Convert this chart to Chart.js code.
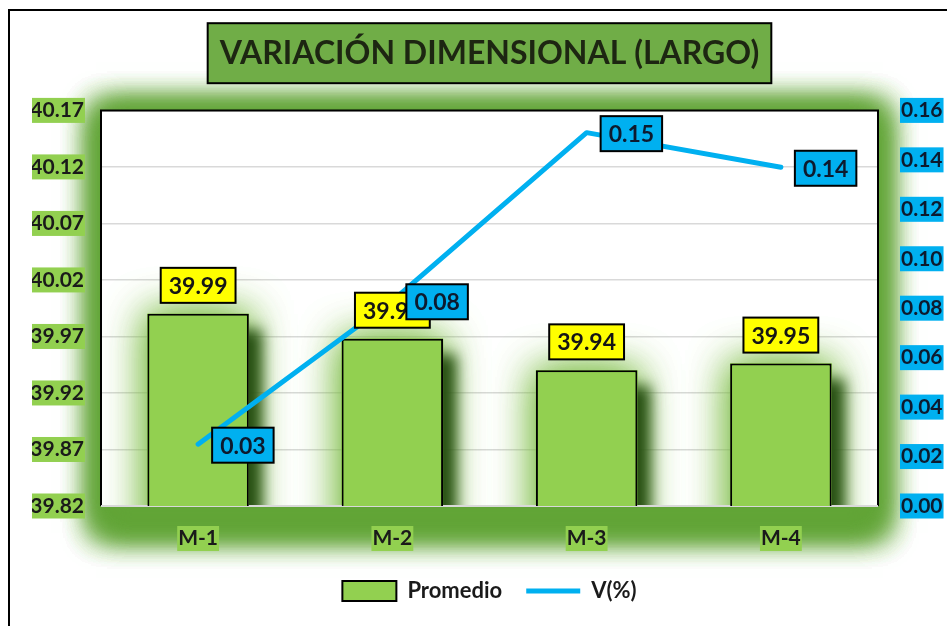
<!DOCTYPE html>
<html><head><meta charset="utf-8">
<script src="https://cdn.jsdelivr.net/npm/chart.js@4.4.1/dist/chart.umd.min.js"></script>
<style>
html,body{margin:0;padding:0;background:#fff;overflow:hidden;width:947px;height:626px}
#frame{position:absolute;left:8px;top:9px;width:1000px;height:1000px;border:2px solid #000;box-sizing:border-box}
#wrap{position:absolute;left:0;top:0;width:947px;height:626px}
</style></head><body>
<div id="frame"></div>
<div id="wrap"><canvas id="c"></canvas></div>
<script>
const TITLE = 'VARIACIÓN DIMENSIONAL (LARGO)';
const categories = ['M-1', 'M-2', 'M-3', 'M-4'];
const promedio = [39.99, 39.968, 39.94, 39.946];
const variacion = [0.025, 0.083, 0.151, 0.137];
const leftMin = 39.82, leftMax = 40.17, leftStep = 0.05;
const rightMin = 0, rightMax = 0.16, rightStep = 0.02;

const FONT = 'Lato';

function box(ctx, x, y, w, h, fill) {
  ctx.fillStyle = fill;
  ctx.fillRect(x, y, w, h);
  ctx.lineWidth = 2;
  ctx.strokeStyle = '#000';
  ctx.strokeRect(x, y, w, h);
}

const decor = {
  id: 'decor',
  beforeDraw(chart) {
    const ctx = chart.ctx, a = chart.chartArea;
    // soft green glow around plot area (shadow only)
    const OFF = 5000;
    ctx.save();
    ctx.shadowColor = 'rgba(98,165,55,1)';
    ctx.shadowOffsetX = OFF;
    ctx.shadowBlur = 30;
    ctx.fillStyle = '#000';
    for (let k = 0; k < 4; k++) {
      ctx.fillRect(a.left - 5 - OFF, a.top - 3, a.width + 10, a.height + 30);
    }
    ctx.restore();
    ctx.save();
    ctx.fillStyle = '#fff';
    ctx.fillRect(a.left, a.top, a.width, a.height);
    ctx.restore();
    // title box
    const tb = chart.titleBlock;
    const topt = chart.options.plugins.title;
    ctx.save();
    ctx.font = 'bold ' + topt.font.size + 'px ' + FONT;
    const tw = ctx.measureText(TITLE).width;
    const cx = tb.left + tb.width / 2;
    const cy = tb.top + topt.padding.top + topt.font.size * 1.2 / 2;
    box(ctx, cx - tw / 2 - 12, cy - 30, tw + 24, 60, '#70AD47');
    ctx.restore();
  },
  beforeDatasetsDraw(chart) {
    const ctx = chart.ctx, a = chart.chartArea;
    const meta = chart.getDatasetMeta(0);
    ctx.save();
    ctx.beginPath();
    ctx.rect(a.left, a.top, a.width, a.height);
    ctx.clip();
    meta.data.forEach(el => {
      const l = el.x - el.width / 2, t = el.y, h = el.base - el.y;
      ctx.save();
      ctx.shadowColor = 'rgba(125,190,70,0.9)';
      ctx.shadowBlur = 40;
      ctx.fillStyle = '#92D050';
      ctx.fillRect(l, t, el.width, h);
      ctx.fillRect(l, t, el.width, h);
      ctx.restore();
      ctx.save();
      ctx.shadowColor = 'rgba(40,80,20,1)';
      ctx.shadowBlur = 14;
      ctx.shadowOffsetX = 13;
      ctx.shadowOffsetY = 16;
      ctx.fillStyle = '#92D050';
      ctx.fillRect(l, t, el.width, h);
      ctx.restore();
    });
    ctx.restore();
    // plot border
    ctx.save();
    ctx.lineWidth = 2;
    ctx.strokeStyle = '#000';
    ctx.beginPath();
    ctx.moveTo(a.left, a.bottom);
    ctx.lineTo(a.left, a.top);
    ctx.lineTo(a.right, a.top);
    ctx.lineTo(a.right, a.bottom);
    ctx.stroke();
    ctx.strokeStyle = '#d9d9d9';
    ctx.beginPath();
    ctx.moveTo(a.left, a.bottom);
    ctx.lineTo(a.right, a.bottom);
    ctx.stroke();
    ctx.restore();
  }
};

const valueLabels = {
  id: 'valueLabels',
  afterDatasetsDraw(chart) {
    const ctx = chart.ctx;
    ctx.save();
    ctx.font = 'bold 23px ' + FONT;
    ctx.textAlign = 'center';
    ctx.textBaseline = 'middle';
    const h = 35;
    chart.getDatasetMeta(0).data.forEach((el, i) => {
      const txt = promedio[i].toFixed(2);
      const w = ctx.measureText(txt).width + 16;
      const x = el.x - w / 2, y = el.y - 11 - h;
      box(ctx, x, y, w, h, '#FFFF00');
      ctx.fillStyle = '#151515';
      ctx.fillText(txt, el.x, y + h / 2 + 1);
    });
    chart.getDatasetMeta(1).data.forEach((el, i) => {
      const txt = variacion[i].toFixed(2);
      const w = ctx.measureText(txt).width + 16;
      const x = el.x + 14, y = el.y - h / 2 + 1;
      box(ctx, x, y, w, h, '#00B0F0');
      ctx.fillStyle = '#0d1a2e';
      ctx.fillText(txt, x + w / 2, y + h / 2 + 1);
    });
    ctx.restore();
  }
};

const tickFont = { family: FONT, size: 21, weight: 'bold', lineHeight: 1 };

new Chart(document.getElementById('c'), {
  data: {
    labels: categories,
    datasets: [
      {
        type: 'bar', label: 'Promedio', data: promedio, yAxisID: 'y', order: 1,
        backgroundColor: '#92D050', borderColor: '#000', borderWidth: 2, borderSkipped: false,
        barPercentage: 0.58, categoryPercentage: 0.9
      },
      {
        type: 'line', label: 'V(%)', data: variacion, yAxisID: 'y1', order: 0,
        borderColor: '#00B0F0', backgroundColor: '#00B0F0', borderWidth: 5,
        pointRadius: 0, tension: 0, borderCapStyle: 'round', borderJoinStyle: 'round'
      }
    ]
  },
  options: {
    responsive: true, maintainAspectRatio: false, animation: false, devicePixelRatio: 1,
    layout: { padding: { left: 32, right: 0, top: 0, bottom: 14 } },
    plugins: {
      title: {
        display: true, text: TITLE, color: '#1d2612',
        font: { family: FONT, size: 32, weight: 'bold' },
        padding: { top: 34, bottom: 38 }
      },
      legend: {
        position: 'bottom',
        labels: {
          usePointStyle: true, pointStyleWidth: 54, boxHeight: 20, padding: 24,
          color: '#1a1a1a', font: { family: FONT, size: 22, weight: 'bold' },
          generateLabels(chart) {
            return chart.data.datasets.map((ds, i) => ({
              text: ds.label, fillStyle: ds.backgroundColor, strokeStyle: ds.borderColor,
              lineWidth: ds.borderWidth, pointStyle: ds.type === 'line' ? 'line' : 'rect',
              datasetIndex: i, hidden: false, fontColor: '#1a1a1a'
            }));
          }
        }
      },
      tooltip: { enabled: false }
    },
    scales: {
      x: {
        offset: true,
        grid: { display: false, drawTicks: false },
        border: { display: false },
        ticks: {
          padding: 22, color: '#1a1a1a', font: tickFont,
          showLabelBackdrop: true, backdropColor: '#92D050', backdropPadding: { x: 1, y: 2 }
        },
        afterFit(s) { s.height = 50; }
      },
      y: {
        position: 'left', min: leftMin, max: leftMax,
        grid: { color: '#d9d9d9', lineWidth: 1.5, drawTicks: false },
        border: { display: false },
        ticks: {
          stepSize: leftStep, padding: 17, color: '#1a1a1a', font: tickFont,
          callback: v => Number(v).toFixed(2),
          showLabelBackdrop: true, backdropColor: '#92D050', backdropPadding: { x: 1, y: 2 }
        },
        afterFit(s) { s.width = 69; }
      },
      y1: {
        position: 'right', min: rightMin, max: rightMax,
        grid: { display: false, drawTicks: false },
        border: { display: false },
        ticks: {
          stepSize: rightStep, padding: 23, color: '#0d1a2e', font: tickFont,
          callback: v => Number(v).toFixed(2),
          showLabelBackdrop: true, backdropColor: '#00B0F0', backdropPadding: { x: 1, y: 2 }
        },
        afterFit(s) { s.width = 69; }
      }
    }
  },
  plugins: [decor, valueLabels]
});
</script>
</body></html>
